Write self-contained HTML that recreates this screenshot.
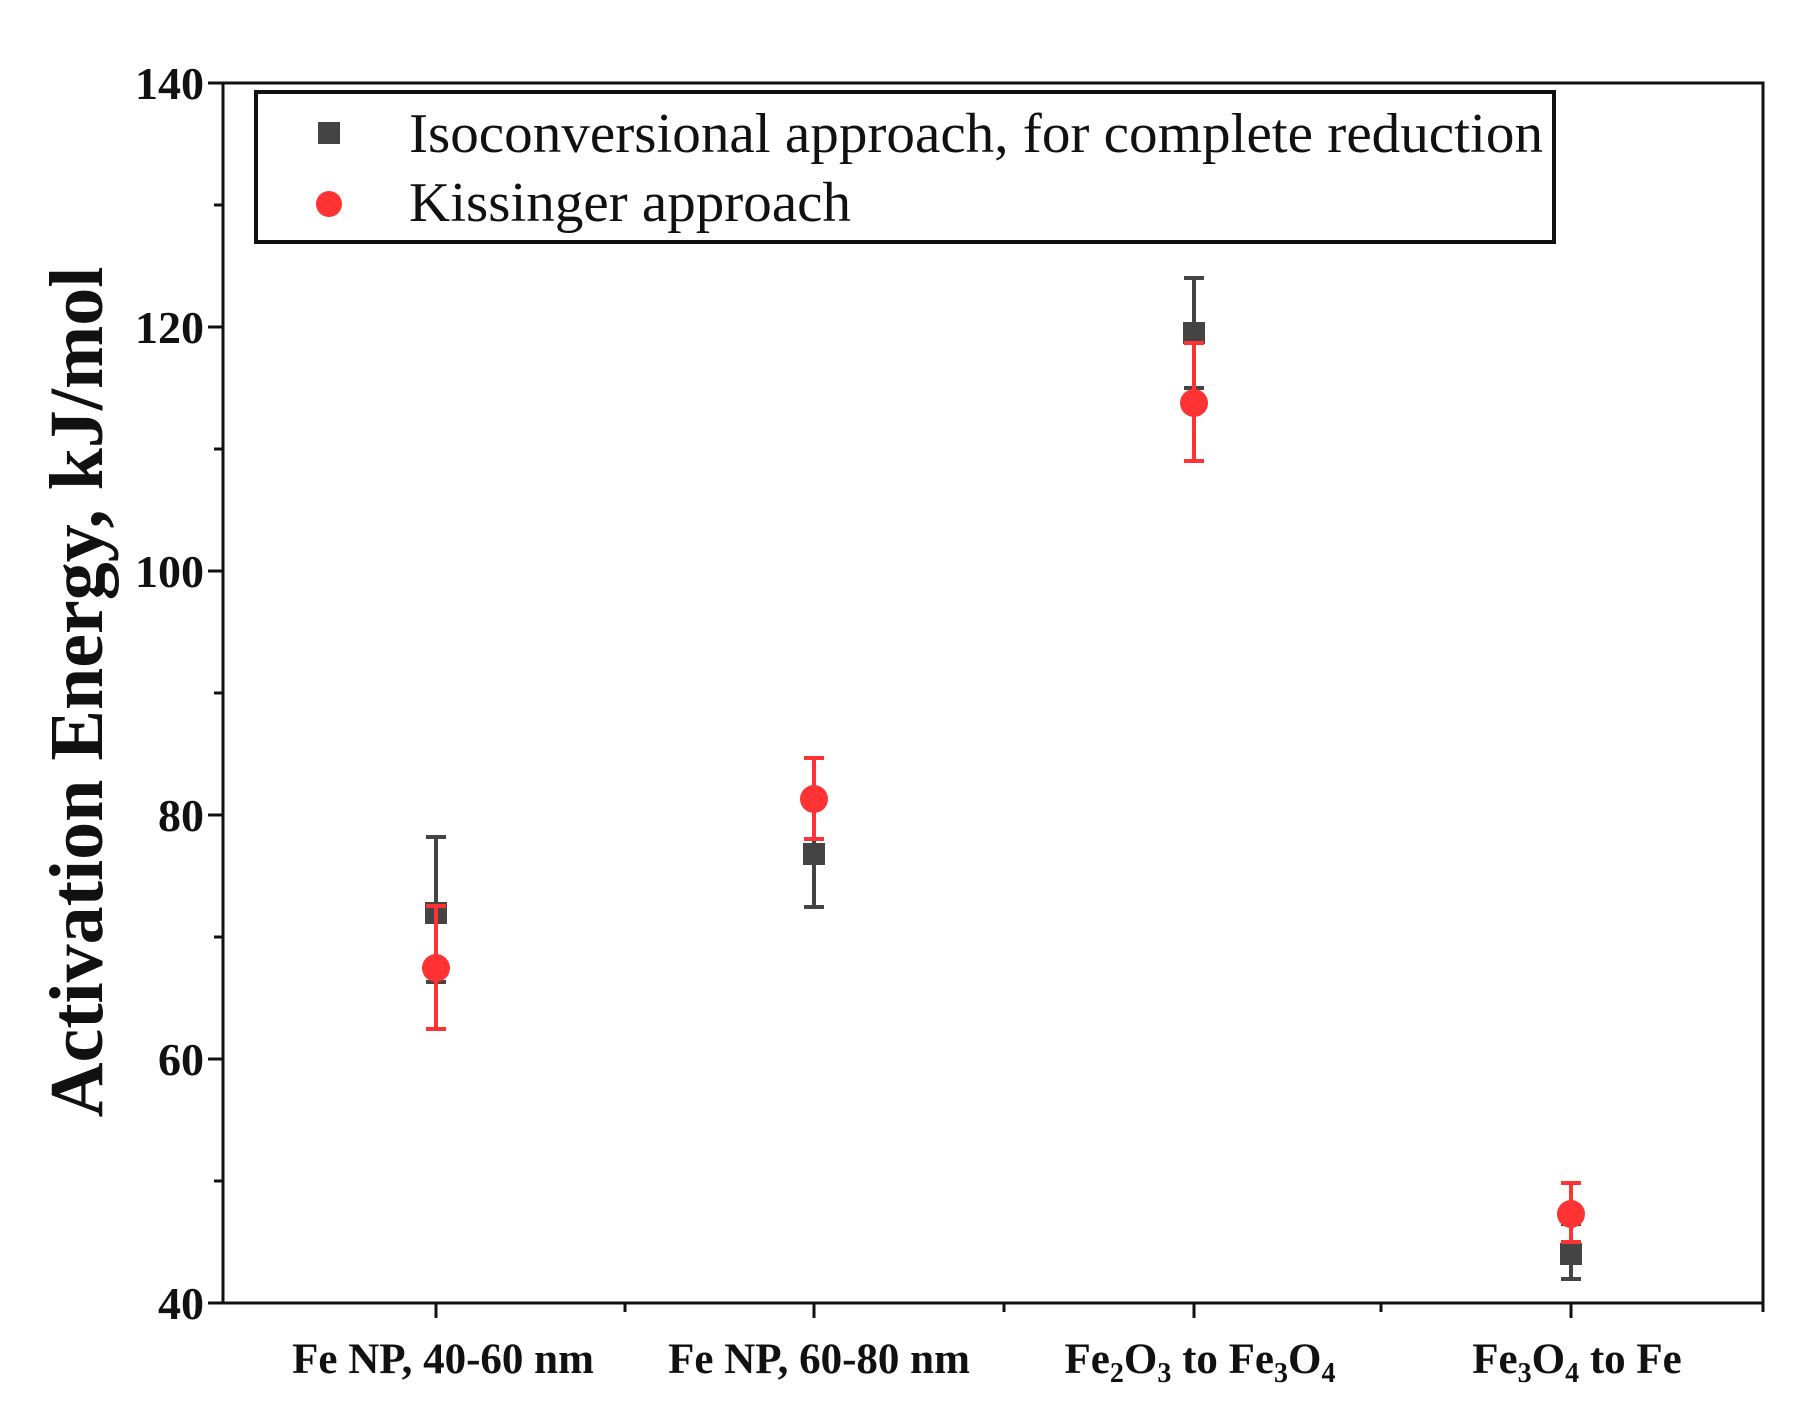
<!DOCTYPE html>
<html><head><style>body{margin:0;background:#fff}svg{display:block}</style></head><body>
<svg width="1807" height="1420" xmlns="http://www.w3.org/2000/svg" font-family="Liberation Serif, serif">
<rect width="1807" height="1420" fill="#fff"/>
<rect x="223" y="83" width="1540" height="1220" fill="none" stroke="#111" stroke-width="3"/>
<g stroke="#111" stroke-width="3">
<line x1="208" y1="83" x2="223" y2="83"/><line x1="208" y1="327" x2="223" y2="327"/><line x1="208" y1="571" x2="223" y2="571"/><line x1="208" y1="815" x2="223" y2="815"/><line x1="208" y1="1059" x2="223" y2="1059"/><line x1="208" y1="1303" x2="223" y2="1303"/>
<line x1="214" y1="205" x2="223" y2="205"/><line x1="214" y1="449" x2="223" y2="449"/><line x1="214" y1="693" x2="223" y2="693"/><line x1="214" y1="937" x2="223" y2="937"/><line x1="214" y1="1181" x2="223" y2="1181"/>
<line x1="436" y1="1303" x2="436" y2="1318"/><line x1="814" y1="1303" x2="814" y2="1318"/><line x1="1194" y1="1303" x2="1194" y2="1318"/><line x1="1571" y1="1303" x2="1571" y2="1318"/>
<line x1="625" y1="1303" x2="625" y2="1312"/><line x1="1004" y1="1303" x2="1004" y2="1312"/><line x1="1381" y1="1303" x2="1381" y2="1312"/><line x1="1763" y1="1303" x2="1763" y2="1312"/>
</g>
<g font-size="46" font-weight="bold" text-anchor="end" fill="#111">
<text x="204" y="99">140</text><text x="204" y="343">120</text><text x="204" y="587">100</text><text x="204" y="831">80</text><text x="204" y="1075">60</text><text x="204" y="1319">40</text>
</g>
<g font-size="43" font-weight="bold" text-anchor="middle" fill="#111">
<text x="443" y="1373">Fe NP, 40-60 nm</text>
<text x="819" y="1373">Fe NP, 60-80 nm</text>
<text x="1200" y="1373">Fe<tspan font-size="28" dy="9">2</tspan><tspan dy="-9">O</tspan><tspan font-size="28" dy="9">3</tspan><tspan dy="-9"> to Fe</tspan><tspan font-size="28" dy="9">3</tspan><tspan dy="-9">O</tspan><tspan font-size="28" dy="9">4</tspan></text>
<text x="1577" y="1373">Fe<tspan font-size="28" dy="9">3</tspan><tspan dy="-9">O</tspan><tspan font-size="28" dy="9">4</tspan><tspan dy="-9"> to Fe</tspan></text>
</g>
<text transform="translate(102,692) rotate(-90)" font-size="76" font-weight="bold" text-anchor="middle" fill="#111">Activation Energy, kJ/mol</text>
<rect x="256" y="92" width="1298" height="150" fill="#fff" stroke="#111" stroke-width="4"/>
<rect x="318" y="122" width="22" height="22" fill="#444"/>
<circle cx="329" cy="204" r="13" fill="#f33"/>
<text x="409" y="152" font-size="56" textLength="1134" lengthAdjust="spacingAndGlyphs" fill="#111">Isoconversional approach, for complete reduction</text>
<text x="409" y="221" font-size="56" textLength="442" lengthAdjust="spacingAndGlyphs" fill="#111">Kissinger approach</text>
<g stroke="#444" stroke-width="4">
<line x1="436" y1="837" x2="436" y2="982"/><line x1="426" y1="837" x2="446" y2="837"/><line x1="426" y1="982" x2="446" y2="982"/>
<line x1="814" y1="803" x2="814" y2="907"/><line x1="804" y1="907" x2="824" y2="907"/>
<line x1="1194" y1="278" x2="1194" y2="388"/><line x1="1184" y1="278" x2="1204" y2="278"/><line x1="1184" y1="388" x2="1204" y2="388"/>
<line x1="1571" y1="1224" x2="1571" y2="1279"/><line x1="1561" y1="1279" x2="1581" y2="1279"/><line x1="1561" y1="1224" x2="1581" y2="1224"/>
</g>
<g fill="#444">
<rect x="425" y="902" width="22" height="22"/><rect x="803" y="843" width="22" height="22"/><rect x="1183" y="322" width="22" height="22"/><rect x="1560" y="1243" width="22" height="22"/>
</g>
<g stroke="#f33" stroke-width="4">
<line x1="436" y1="906" x2="436" y2="1029"/><line x1="426" y1="1029" x2="446" y2="1029"/><line x1="426" y1="906" x2="446" y2="906"/>
<line x1="814" y1="758" x2="814" y2="839"/><line x1="804" y1="758" x2="824" y2="758"/><line x1="804" y1="839" x2="824" y2="839"/>
<line x1="1194" y1="343" x2="1194" y2="461"/><line x1="1184" y1="461" x2="1204" y2="461"/><line x1="1184" y1="343" x2="1204" y2="343"/>
<line x1="1571" y1="1183" x2="1571" y2="1242"/><line x1="1561" y1="1183" x2="1581" y2="1183"/><line x1="1561" y1="1242" x2="1581" y2="1242"/>
</g>
<g fill="#f33">
<circle cx="436" cy="968" r="14"/><circle cx="814" cy="799" r="14"/><circle cx="1194" cy="403" r="14"/><circle cx="1571" cy="1214" r="14"/>
</g>
</svg>
</body></html>
